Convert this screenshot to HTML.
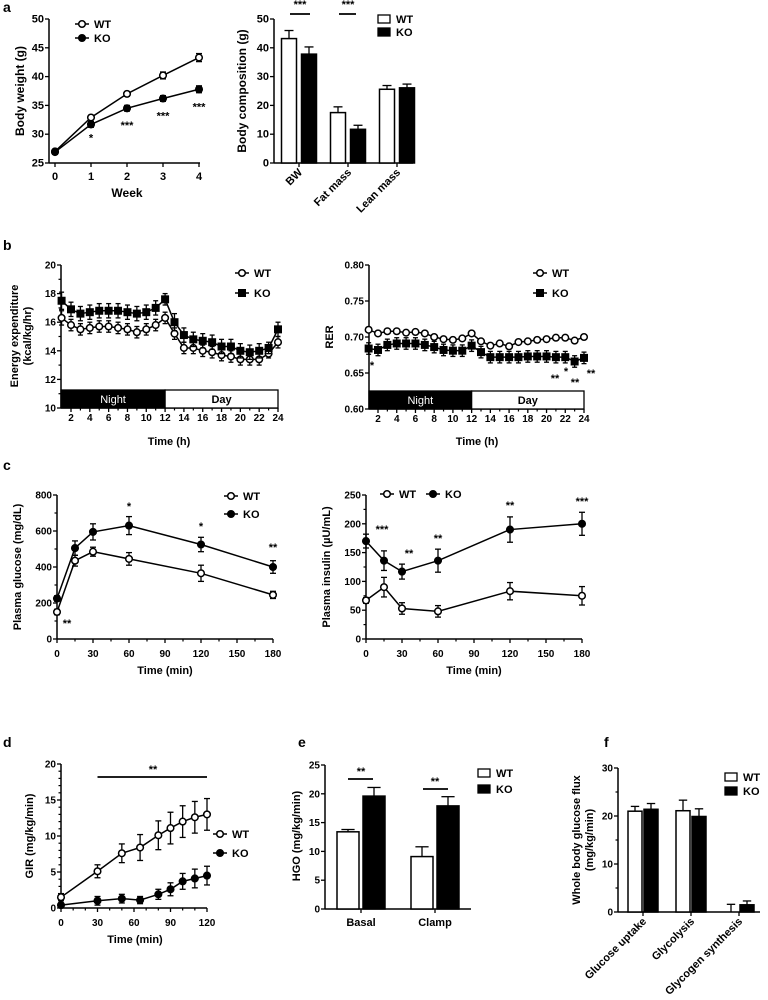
<!DOCTYPE html>
<html><head><meta charset="utf-8"><style>
html,body{margin:0;padding:0;background:#fff;}
svg{display:block;font-family:"Liberation Sans",Arial,sans-serif;font-weight:bold;}
</style></head><body>
<svg id="fig" width="768" height="1000" viewBox="0 0 768 1000"></svg>
<script>
// ---------- DATA ----------
const aWeeks=[0,1,2,3,4];
const aWT=[27.0,32.9,37.0,40.2,43.3];
const aWTerr=[0.4,0.4,0.4,0.6,0.7];
const aKO=[26.9,31.7,34.5,36.2,37.8];
const aKOerr=[0.4,0.5,0.5,0.5,0.6];
const aStars=['','*','***','***','***'];

const compCats=['BW','Fat mass','Lean mass'];
const compWT=[43.2,17.5,25.6];
const compWTerr=[2.8,2.0,1.3];
const compKO=[37.8,11.7,26.1];
const compKOerr=[2.5,1.4,1.3];

const hours=[1,2,3,4,5,6,7,8,9,10,11,12,13,14,15,16,17,18,19,20,21,22,23,24];
const eeWT=[16.3,15.8,15.5,15.6,15.7,15.7,15.6,15.5,15.3,15.5,15.8,16.3,15.2,14.2,14.2,14.0,13.9,13.7,13.6,13.4,13.4,13.4,13.8,14.6];
const eeKO=[17.5,16.9,16.6,16.7,16.8,16.8,16.8,16.7,16.6,16.7,17.0,17.6,16.0,15.1,14.8,14.7,14.6,14.3,14.3,14.0,13.9,14.0,14.2,15.5];
const eeWTerr=[0.5,0.4,0.4,0.4,0.4,0.4,0.4,0.4,0.4,0.4,0.4,0.4,0.4,0.4,0.4,0.4,0.4,0.4,0.4,0.4,0.4,0.4,0.3,0.4];
const eeKOerr=[0.6,0.5,0.5,0.5,0.5,0.5,0.5,0.5,0.5,0.5,0.5,0.4,0.6,0.5,0.5,0.5,0.5,0.5,0.5,0.5,0.5,0.5,0.4,0.5];
const rerWT=[0.710,0.705,0.708,0.708,0.706,0.707,0.705,0.700,0.697,0.696,0.698,0.705,0.694,0.688,0.691,0.687,0.693,0.694,0.696,0.697,0.699,0.699,0.695,0.700];
const rerKO=[0.684,0.682,0.689,0.691,0.691,0.691,0.689,0.686,0.682,0.681,0.681,0.688,0.679,0.672,0.672,0.672,0.672,0.673,0.673,0.673,0.672,0.672,0.666,0.671];
const rerWTerr=[0.003,0.003,0.003,0.003,0.003,0.003,0.003,0.003,0.003,0.003,0.003,0.003,0.003,0.003,0.003,0.003,0.003,0.003,0.003,0.003,0.003,0.003,0.003,0.003];
const rerKOerr=[0.008,0.008,0.008,0.008,0.008,0.008,0.008,0.008,0.008,0.008,0.008,0.008,0.008,0.008,0.008,0.008,0.008,0.008,0.008,0.008,0.008,0.008,0.008,0.008];

const ivTimes=[0,15,30,60,120,180];
const gluWT=[150,435,485,445,365,245];
const gluWTerr=[15,30,25,35,45,20];
const gluKO=[225,505,595,630,525,400];
const gluKOerr=[15,40,45,50,40,35];
const insWT=[67,90,53,48,83,75];
const insWTerr=[5,17,10,10,15,16];
const insKO=[170,136,117,136,190,200];
const insKOerr=[12,17,13,20,22,20];

const girTimes=[0,30,50,65,80,90,100,110,120];
const girWT=[1.5,5.1,7.6,8.4,10.1,11.1,12.0,12.6,13.0];
const girWTerr=[0.5,0.9,1.3,1.8,2.0,2.2,2.2,2.2,2.2];
const girKO=[0.4,1.0,1.3,1.1,1.9,2.6,3.7,4.1,4.5];
const girKOerr=[0.3,0.6,0.6,0.5,0.7,0.9,1.1,1.3,1.3];

const hgoCats=['Basal','Clamp'];
const hgoWT=[13.4,9.1];
const hgoWTerr=[0.4,1.7];
const hgoKO=[19.6,17.9];
const hgoKOerr=[1.5,1.6];

const fluxCats=['Glucose uptake','Glycolysis','Glycogen synthesis'];
const fluxWT=[21.0,21.1,0.0];
const fluxWTerr=[1.0,2.2,1.6];
const fluxKO=[21.4,19.9,1.5];
const fluxKOerr=[1.2,1.6,0.8];

// ---------- HELPERS ----------
const NS='http://www.w3.org/2000/svg';
const svg=document.getElementById('fig');
function mk(tag,attrs,parent){const e=document.createElementNS(NS,tag);for(const k in attrs)e.setAttribute(k,attrs[k]);(parent||svg).appendChild(e);return e;}
function txt(s,x,y,size,anchor,parent,extra){const t=mk('text',Object.assign({x:x,y:y,'font-size':size,'text-anchor':anchor||'middle',fill:'#000'},extra||{}),parent);t.textContent=s;return t;}
function lin(x1,y1,x2,y2,w,parent){return mk('line',{x1:x1,y1:y1,x2:x2,y2:y2,stroke:'#000','stroke-width':w||1.3},parent);}
function scale(d0,d1,p0,p1){return v=>p0+(v-d0)*(p1-p0)/(d1-d0);}

function panel(name){const g=mk('g',{});


return g;}

function yAxis(g,ax,sy,ticks,minor,fmt,size){
  const ya=mk('g',{},g);
  
  
  lin(ax,sy(ticks[0]),ax,sy(ticks[ticks.length-1]),1.5,ya);
  ticks.forEach(v=>{lin(ax-4,sy(v),ax,sy(v),1.3,ya);
    const t=txt(fmt?fmt(v):String(v),ax-5,sy(v)+3.5,size||10,'end',ya);
    
    });
  (minor||[]).forEach(v=>lin(ax-2.5,sy(v),ax,sy(v),1.2,ya));
}
function xAxis(g,ay,x0,x1,sx,ticks,labels,minor,size,ly){
  const xa=mk('g',{},g);
  
  
  lin(x0,ay,x1,ay,1.5,xa);
  ticks.forEach((v,i)=>{lin(sx(v),ay,sx(v),ay+4,1.3,xa);
    if(labels){const t=txt(labels[i],sx(v),ly||ay+15,size||10,'middle',xa);
    
    }});
  (minor||[]).forEach(v=>lin(sx(v),ay,sx(v),ay+2.5,1.2,xa));
}
function ytitle(g,s,x,y,size){const t=txt(s,x,y,size||11,'middle',g,{transform:'rotate(-90 '+x+' '+y+')'});

return t;}
function xtitle(g,s,x,y,size){const t=txt(s,x,y,size||11,'middle',g);

return t;}

function marker(g,x,y,open,square,r){
  r=r||3.3;
  if(square){return mk('rect',{x:x-r,y:y-r,width:2*r,height:2*r,fill:open?'#fff':'#000',stroke:'#000','stroke-width':1.4},g);}
  return mk('circle',{cx:x,cy:y,r:r,fill:open?'#fff':'#000',stroke:'#000','stroke-width':1.5},g);
}
function series(g,name,xs,ys,errs,sx,sy,open,square,cap){
  const s=mk('g',{},g);
  
  
  cap=cap||3;
  let d='';xs.forEach((x,i)=>{d+=(i?'L':'M')+sx(x)+' '+sy(ys[i]);});
  mk('path',{d:d,fill:'none',stroke:'#000','stroke-width':1.5},s);
  xs.forEach((x,i)=>{const X=sx(x),hi=sy(ys[i]+errs[i]),lo=sy(ys[i]-errs[i]);
    lin(X,hi,X,lo,1.3,s);lin(X-cap,hi,X+cap,hi,1.3,s);lin(X-cap,lo,X+cap,lo,1.3,s);});
  xs.forEach((x,i)=>{const m=marker(s,sx(x),sy(ys[i]),open,square);
    
    });
}
function legendEntry(g,label,x,y,open,square,size){
  const e=mk('g',{},g);
  
  
  lin(x-7,y,x+7,y,1.5,e);marker(e,x,y,open,square);
  txt(label,x+12,y+4,size||11,'start',e);
}
function barLegend(g,label,x,y,fill){
  const e=mk('g',{},g);
  
  
  mk('rect',{x:x,y:y-4,width:12,height:8,fill:fill,stroke:'#000','stroke-width':1.3},e);
  txt(label,x+18,y+4,11,'start',e);
}
function bar(g,name,cx,w,v,err,sy,fill){
  const b=mk('g',{},g);
  
  
  const top=sy(v),base=sy(0),eh=sy(v+err);
  lin(cx,eh,cx,top,1.3,b);lin(cx-w*0.3,eh,cx+w*0.3,eh,1.3,b);
  mk('rect',{x:cx-w/2,y:top,width:w,height:Math.max(0,base-top),fill:fill,stroke:'#000','stroke-width':1.5},b);
}
function stars(g,s,x,y,size){const t=txt(s,x,y,size||11,'middle',g);

return t;}
function letter(s,x,y){const t=txt(s,x,y,14,'start');

}

// ---------- PANEL a (left) ----------
letter('a',3,12);
(function(){const g=panel('body-weight-chart');
 const sx=scale(0,4,55,199),sy=scale(25,50,163,19);
 yAxis(g,49,sy,[25,30,35,40,45,50],[],null,11);
 xAxis(g,163,49,200,sx,aWeeks,aWeeks.map(String),[],11,180);
 ytitle(g,'Body weight (g)',24,91,12);xtitle(g,'Week',127,197,12);
 series(g,'wt-line',aWeeks,aWT,aWTerr,sx,sy,true,false);
 series(g,'ko-line',aWeeks,aKO,aKOerr,sx,sy,false,false);
 aWeeks.forEach((w,i)=>{if(aStars[i])stars(g,aStars[i],sx(w),sy(aKO[i]-aKOerr[i])+ (i==1?14:18),11);});
 legendEntry(g,'WT',82,24,true,false,11);legendEntry(g,'KO',82,38,false,false,11);
})();
// ---------- PANEL a (right) ----------
(function(){const g=panel('body-composition-chart');
 const sy=scale(0,50,163,19);
 yAxis(g,274,sy,[0,10,20,30,40,50],[],null,11);
 const centers=[299,348,397];
 xAxis(g,163,274,413,v=>v,centers,null,[],11);
 ytitle(g,'Body composition (g)',246,91,12);
 compCats.forEach((c,i)=>{bar(g,'bar-wt-'+c,centers[i]-10,15,compWT[i],compWTerr[i],sy,'#fff');
   bar(g,'bar-ko-'+c,centers[i]+10,15,compKO[i],compKOerr[i],sy,'#000');
   const t=txt(c,centers[i]+4,173,11,'end',g,{transform:'rotate(-45 '+(centers[i]+4)+' 173)'});
   
   });
 lin(290,14,310,14,1.8,g);stars(g,'***',300,8,11);
 lin(339,14,356,14,1.8,g);stars(g,'***',348,8,11);
 barLegend(g,'WT',378,19,'#fff');barLegend(g,'KO',378,32,'#000');
})();
// ---------- PANEL b ----------
letter('b',3,250);
function dayNight(g,ax,x12,xEnd,top,bottom){
 const n=mk('rect',{x:ax,y:top,width:x12-ax,height:bottom-top,fill:'#000',stroke:'#000','stroke-width':1.3},g);
 
 
 const d=mk('rect',{x:x12,y:top,width:xEnd-x12,height:bottom-top,fill:'#fff',stroke:'#000','stroke-width':1.3},g);
 
 
 txt('Night',(ax+x12)/2,top+13,11,'middle',g,{fill:'#fff','font-weight':'normal'});
 txt('Day',(x12+xEnd)/2,top+13,11,'middle',g);
}
(function(){const g=panel('energy-expenditure-chart');
 const sx=scale(2,24,71,278),sy=scale(10,20,408,265);
 yAxis(g,61,sy,[10,12,14,16,18,20],[11,13,15,17,19],null,10);
 const ev=[2,4,6,8,10,12,14,16,18,20,22,24];
 xAxis(g,408,61,278,sx,ev,ev.map(String),[3,5,7,9,11,13,15,17,19,21,23],10,421);
 dayNight(g,61,sx(12),278,390,408);
 ytitle(g,'Energy expenditure',18,336,11);ytitle(g,'(kcal/kg/hr)',31,336,11);
 xtitle(g,'Time (h)',169,445,11);
 series(g,'wt-line',hours,eeWT,eeWTerr,sx,sy,true,false,2.5);
 series(g,'ko-line',hours,eeKO,eeKOerr,sx,sy,false,true,2.5);
 legendEntry(g,'WT',242,273,true,false,11);legendEntry(g,'KO',242,293,false,true,11);
})();
(function(){const g=panel('rer-chart');
 const sx=scale(2,24,378,584),sy=scale(0.60,0.80,409,265);
 yAxis(g,369,sy,[0.60,0.65,0.70,0.75,0.80],[],v=>v.toFixed(2),10);
 const ev=[2,4,6,8,10,12,14,16,18,20,22,24];
 xAxis(g,409,369,584,sx,ev,ev.map(String),[3,5,7,9,11,13,15,17,19,21,23],10,422);
 dayNight(g,369,sx(12),584,391,409);
 ytitle(g,'RER',333,337,11);xtitle(g,'Time (h)',477,445,11);
 series(g,'wt-line',hours,rerWT,rerWTerr,sx,sy,true,false,2.5);
 series(g,'ko-line',hours,rerKO,rerKOerr,sx,sy,false,true,2.5);
 stars(g,'*',372,369,11);stars(g,'**',555,382,11);stars(g,'*',566,375,11);stars(g,'**',575,386,11);stars(g,'**',591,377,11);
 legendEntry(g,'WT',540,273,true,false,11);legendEntry(g,'KO',540,293,false,true,11);
})();
// ---------- PANEL c ----------
letter('c',3,470);
(function(){const g=panel('plasma-glucose-chart');
 const sx=scale(0,180,57,273),sy=scale(0,800,639,495);
 yAxis(g,57,sy,[0,200,400,600,800],[100,300,500,700],null,10);
 const tk=[0,30,60,90,120,150,180];
 xAxis(g,639,57,273,sx,tk,tk.map(String),[15,45,75,105,135,165],10,657);
 ytitle(g,'Plasma glucose (mg/dL)',21,567,11);xtitle(g,'Time (min)',165,674,11);
 series(g,'wt-line',ivTimes,gluWT,gluWTerr,sx,sy,true,false);
 series(g,'ko-line',ivTimes,gluKO,gluKOerr,sx,sy,false,false);
 stars(g,'**',67,627,11);stars(g,'*',sx(60),510,11);stars(g,'*',sx(120),530,11);stars(g,'**',sx(180),551,11);
 legendEntry(g,'WT',231,496,true,false,11);legendEntry(g,'KO',231,514,false,false,11);
})();
(function(){const g=panel('plasma-insulin-chart');
 const sx=scale(0,180,366,582),sy=scale(0,250,639,495);
 yAxis(g,366,sy,[0,50,100,150,200,250],[25,75,125,175,225],null,10);
 const tk=[0,30,60,90,120,150,180];
 xAxis(g,639,366,582,sx,tk,tk.map(String),[15,45,75,105,135,165],10,657);
 ytitle(g,'Plasma insulin (\u00b5U/mL)',330,567,11);xtitle(g,'Time (min)',474,674,11);
 series(g,'wt-line',ivTimes,insWT,insWTerr,sx,sy,true,false);
 series(g,'ko-line',ivTimes,insKO,insKOerr,sx,sy,false,false);
 stars(g,'***',382,533,11);stars(g,'**',409,557,11);stars(g,'**',sx(60),542,11);stars(g,'**',sx(120),509,11);stars(g,'***',sx(180),505,11);
 legendEntry(g,'WT',387,494,true,false,11);legendEntry(g,'KO',433,494,false,false,11);
})();
// ---------- PANEL d ----------
letter('d',3,747);
(function(){const g=panel('gir-chart');
 const sx=scale(0,120,61,207),sy=scale(0,20,908,764);
 yAxis(g,61,sy,[0,5,10,15,20],[1,2,3,4,6,7,8,9,11,12,13,14,16,17,18,19],null,10);
 const tk=[0,30,60,90,120];
 xAxis(g,908,61,207,sx,tk,tk.map(String),[10,20,40,50,70,80,100,110],10,926);
 ytitle(g,'GIR (mg/kg/min)',33,836,11);xtitle(g,'Time (min)',135,943,11);
 lin(sx(30),777,sx(120),777,1.8,g);stars(g,'**',153,773,11);
 series(g,'wt-line',girTimes,girWT,girWTerr,sx,sy,true,false);
 series(g,'ko-line',girTimes,girKO,girKOerr,sx,sy,false,false);
 legendEntry(g,'WT',220,834,true,false,11);legendEntry(g,'KO',220,853,false,false,11);
})();
// ---------- PANEL e ----------
letter('e',298,747);
(function(){const g=panel('hgo-chart');
 const sy=scale(0,25,909,765);
 yAxis(g,325,sy,[0,5,10,15,20,25],[],null,10);
 const centers=[361,435];
 xAxis(g,909,325,471,v=>v,centers,null,[],10);
 ytitle(g,'HGO (mg/kg/min)',300,836,11);
 hgoCats.forEach((c,i)=>{bar(g,'bar-wt-'+c,centers[i]-13,22,hgoWT[i],hgoWTerr[i],sy,'#fff');
   bar(g,'bar-ko-'+c,centers[i]+13,22,hgoKO[i],hgoKOerr[i],sy,'#000');
   const t=txt(c,centers[i],926,11,'middle',g);
   
   });
 lin(348,779,373,779,1.8,g);stars(g,'**',361,775,11);
 lin(423,789,448,789,1.8,g);stars(g,'**',435,785,11);
 barLegend(g,'WT',478,773,'#fff');barLegend(g,'KO',478,789,'#000');
})();
// ---------- PANEL f ----------
letter('f',604,747);
(function(){const g=panel('glucose-flux-chart');
 const sy=scale(0,30,912,768);
 yAxis(g,618,sy,[0,10,20,30],[5,15,25],null,10);
 const centers=[643,691,739];
 xAxis(g,912,618,760,v=>v,centers,null,[],10);
 ytitle(g,'Whole body glucose flux',580,840,11);ytitle(g,'(mg/kg/min)',593,840,11);
 fluxCats.forEach((c,i)=>{bar(g,'bar-wt-'+c,centers[i]-8,14,fluxWT[i],fluxWTerr[i],sy,'#fff');
   bar(g,'bar-ko-'+c,centers[i]+8,14,fluxKO[i],fluxKOerr[i],sy,'#000');
   const t=txt(c,centers[i]+4,922,11,'end',g,{transform:'rotate(-45 '+(centers[i]+4)+' 922)'});
   
   });
 barLegend(g,'WT',725,777,'#fff');barLegend(g,'KO',725,791,'#000');
})();
</script>
</body></html>
